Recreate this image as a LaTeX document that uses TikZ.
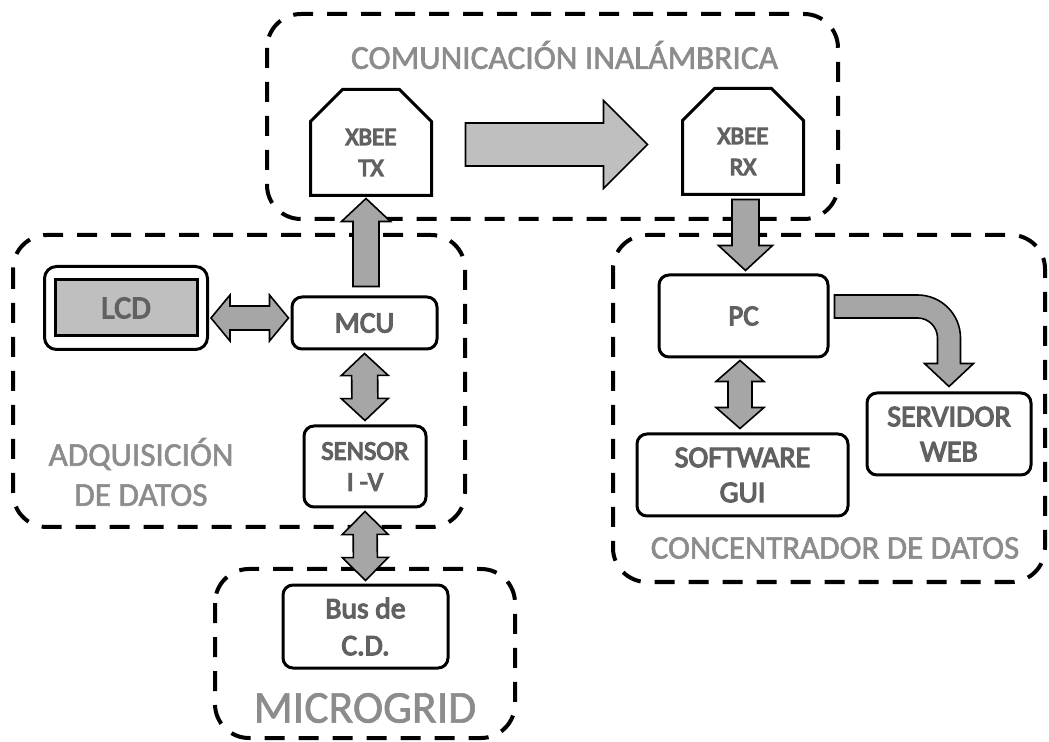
\documentclass[tikz,border=0pt]{standalone}
\usepackage{fontspec}
\setmainfont{Carlito}
\usetikzlibrary{calc,fit}
\definecolor{arrgray}{RGB}{166,166,166}
\definecolor{litegray}{RGB}{191,191,191}
\newcommand{\outlon}[1]{\special{pdf:literal direct 2 Tr #1 w}}
\newcommand{\outloff}{\special{pdf:literal direct 0 Tr}}
\tikzset{%
  blk/.style={draw, line width=1.5pt, rounded corners=5pt, align=center, text=black!62,
    execute at begin node={\outlon{0.6}}, execute at end node={\outloff}},
  xbee/.style={blk, draw=none, minimum width=59pt, minimum height=51.5pt,
    text height=33.5pt, text depth=0pt, font=\fontsize{12.5}{15.5}\selectfont},
  xbeeline/.style={line width=1.5pt, line join=miter},
  grp/.style={line width=2pt, dash pattern=on 10pt off 7pt, rounded corners=17pt},
  grplbl/.style={align=center, text=black!45,
    execute at begin node={\outlon{0.3}}, execute at end node={\outloff}},
  arr/.style={draw, fill=arrgray, line width=0.8pt, line join=miter},
  fat/.style n args={3}{arr, to path={
    ($(\tikztotarget)!#3!(\tikztostart)$) coordinate (fat-c)
    ($(\tikztostart)!#1!90:(\tikztotarget)$) -- ($(fat-c)!#1!90:(\tikztotarget)$)
    -- ($(fat-c)!#2!90:(\tikztotarget)$) -- (\tikztotarget) -- ($(fat-c)!#2!-90:(\tikztotarget)$)
    -- ($(fat-c)!#1!-90:(\tikztotarget)$) -- ($(\tikztostart)!#1!-90:(\tikztotarget)$) -- cycle}},
  dbl/.style n args={3}{arr, to path={
    ($(\tikztostart)!#3!(\tikztotarget)$) coordinate (dbl-a)
    ($(\tikztotarget)!#3!(\tikztostart)$) coordinate (dbl-b)
    (\tikztostart) -- ($(dbl-a)!#2!90:(\tikztotarget)$) -- ($(dbl-a)!#1!90:(\tikztotarget)$)
    -- ($(dbl-b)!#1!90:(\tikztotarget)$) -- ($(dbl-b)!#2!90:(\tikztotarget)$) -- (\tikztotarget)
    -- ($(dbl-b)!#2!-90:(\tikztotarget)$) -- ($(dbl-b)!#1!-90:(\tikztotarget)$)
    -- ($(dbl-a)!#1!-90:(\tikztotarget)$) -- ($(dbl-a)!#2!-90:(\tikztotarget)$) -- cycle}}
}
\begin{document}
\begin{tikzpicture}[x=0.5pt,y=0.5pt]
\useasboundingbox (0,0) rectangle (1049,-742);
% groups
\draw[grp] (267,-14) rectangle (838,-219);
\draw[grp] (13,-235) rectangle (465,-527);
\draw[grp] (613,-235) rectangle (1045,-582);
\draw[grp] (215,-569) rectangle (515,-738);
\node[grplbl, font=\fontsize{16.7}{20}\selectfont] (commlbl) at (564.5,-55) {COMUNICACIÓN INALÁMBRICA};
\node[grplbl, font=\fontsize{16.6}{20}\selectfont] (adqlbl) at (141,-472) {ADQUISICIÓN\\DE DATOS};
\node[grplbl, font=\fontsize{16.5}{20}\selectfont] (conclbl) at (835,-548) {CONCENTRADOR DE DATOS};
\node[grplbl, font=\fontsize{22.8}{27}\selectfont] (microlbl) at (365,-708) {MICROGRID};
% blocks
\node[xbee] (tx) at (371,-142.5) {XBEE\\TX};
\node[xbee] (rx) at (743,-141.5) {XBEE\\RX};
\foreach \n in {tx,rx}
  \draw[xbeeline] (\n.south west) -- ([yshift=-16pt]\n.north west) -- ([xshift=16pt]\n.north west)
    -- ([xshift=-16pt]\n.north east) -- ([yshift=-16pt]\n.north east) -- (\n.south east) -- cycle;
\node[blk, sharp corners, minimum width=71pt, minimum height=28pt, fill=litegray, font=\fontsize{16}{19}\selectfont] (lcd) at (126,-308) {LCD};
\node[draw, line width=1.5pt, rounded corners=6pt, inner xsep=4.5pt, inner ysep=6pt, fit=(lcd)] (lcdframe) {};
\node[blk, minimum width=72.5pt, minimum height=26pt, font=\fontsize{14.7}{17.6}\selectfont] (mcu) at (364.5,-323) {MCU};
\node[blk, minimum width=61pt, minimum height=40.5pt, font=\fontsize{13.4}{15.5}\selectfont] (sensor) at (365,-466.5) {SENSOR\\I -V};
\node[blk, minimum width=82.5pt, minimum height=41.5pt, font=\fontsize{14.8}{18.5}\selectfont] (bus) at (365.5,-626.5) {Bus de\\C.D.};
\node[blk, minimum width=84.5pt, minimum height=41pt, font=\fontsize{14.5}{17.4}\selectfont] (pc) at (743.5,-316) {PC};
\node[blk, minimum width=105.5pt, minimum height=41pt, font=\fontsize{15}{17.5}\selectfont] (sw) at (742.5,-475) {SOFTWARE\\GUI};
\node[blk, minimum width=82pt, minimum height=41pt, font=\fontsize{15}{17.5}\selectfont] (srv) at (949,-434) {SERVIDOR\\WEB};
% arrows
\draw[fat={10.75pt}{22pt}{22pt}, fill=litegray] ([xshift=17pt,yshift=-1pt]tx.east) to ([xshift=-17.5pt,yshift=-1.5pt]rx.west);
\draw[fat={6.5pt}{12.25pt}{11.5pt}] ([xshift=0.75pt,yshift=4.5pt]mcu.north) to ([xshift=-2.5pt,yshift=-1.5pt]tx.south);
\draw[fat={6.75pt}{13.5pt}{12.5pt}] ([xshift=1.25pt,yshift=-2.5pt]rx.south) to ([xshift=1pt,yshift=1.5pt]pc.north);
\draw[dbl={6pt}{11.5pt}{9.5pt}] ([xshift=1pt,yshift=-5pt]lcdframe.east) to ([xshift=-1pt,yshift=2.5pt]mcu.west);
\draw[dbl={6.5pt}{11.75pt}{11pt}] ([yshift=-1.5pt]mcu.south) to ([yshift=2pt]sensor.north);
\draw[dbl={6pt}{11.5pt}{11.5pt}] ([yshift=-1.5pt]sensor.south) to ([yshift=1.5pt]bus.north);
\draw[dbl={6pt}{12pt}{10.5pt}] ([xshift=-1.75pt,yshift=-1pt]pc.south) to ([xshift=-1.25pt,yshift=2pt]sw.north);
\draw[arr] let \p1=(pc.east), \p2=(srv.north) in
  (\x1+2.5pt,\y1+10.5pt) -- (\x2-15.75pt,\y1+10.5pt) arc[start angle=90,end angle=0,radius=21.5pt]
  -- (\x2+5.75pt,\y2+14pt) -- (\x2+12.25pt,\y2+14pt) -- (\x2,\y2+2.5pt) -- (\x2-12.25pt,\y2+14pt)
  -- (\x2-5.75pt,\y2+14pt) -- (\x2-5.75pt,\y1-11pt) arc[start angle=0,end angle=90,radius=10pt]
  -- (\x1+2.5pt,\y1-1pt) -- cycle;
\end{tikzpicture}
\end{document}
